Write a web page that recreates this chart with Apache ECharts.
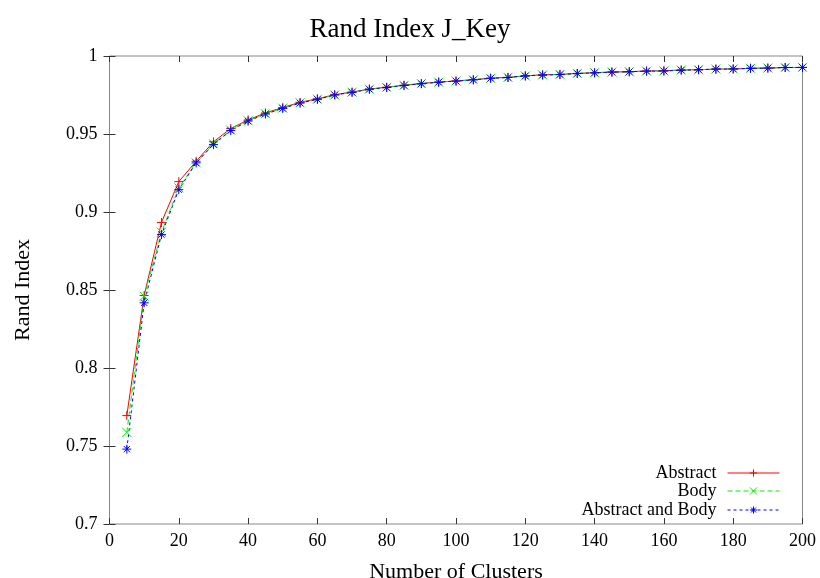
<!DOCTYPE html>
<html>
<head>
<meta charset="utf-8">
<script src="https://cdn.jsdelivr.net/npm/echarts@6/dist/echarts.min.js"></script>
<style>
  html, body { margin: 0; padding: 0; background: #fff; }
  #chart { width: 820px; height: 578px; }
</style>
</head>
<body>
<div id="chart"></div>
<script>
// Number of clusters (x) and the Rand index of each feature set
const clusters = [5, 10, 15, 20, 25, 30, 35, 40, 45, 50, 55, 60, 65, 70, 75, 80, 85, 90, 95, 100,
  105, 110, 115, 120, 125, 130, 135, 140, 145, 150, 155, 160, 165, 170, 175, 180, 185, 190, 195, 200];

const abstractValues = [0.7695, 0.8465, 0.8933, 0.9195, 0.9325, 0.9450, 0.9535, 0.9590, 0.9635, 0.9670,
  0.9703, 0.9726, 0.9752, 0.9769, 0.9788, 0.9800, 0.9813, 0.9824, 0.9833, 0.9840,
  0.9848, 0.9858, 0.9863, 0.9873, 0.9879, 0.9882, 0.9888, 0.9893, 0.9897, 0.9899,
  0.9904, 0.9905, 0.9910, 0.9912, 0.9916, 0.9917, 0.9921, 0.9923, 0.9926, 0.9926];

const bodyValues = [0.7587, 0.8460, 0.8870, 0.9155, 0.9315, 0.9437, 0.9525, 0.9585, 0.9630, 0.9666,
  0.9700, 0.9723, 0.9750, 0.9768, 0.9787, 0.9799, 0.9812, 0.9823, 0.9832, 0.9840,
  0.9847, 0.9857, 0.9863, 0.9872, 0.9879, 0.9882, 0.9888, 0.9893, 0.9897, 0.9899,
  0.9903, 0.9904, 0.9910, 0.9912, 0.9916, 0.9917, 0.9921, 0.9923, 0.9926, 0.9927];

const bothValues = [0.7480, 0.8418, 0.8855, 0.9143, 0.9315, 0.9432, 0.9522, 0.9583, 0.9628, 0.9664,
  0.9698, 0.9722, 0.9750, 0.9767, 0.9787, 0.9798, 0.9811, 0.9822, 0.9832, 0.9839,
  0.9847, 0.9857, 0.9862, 0.9872, 0.9878, 0.9881, 0.9888, 0.9892, 0.9897, 0.9899,
  0.9903, 0.9904, 0.9909, 0.9912, 0.9916, 0.9917, 0.9921, 0.9922, 0.9926, 0.9927];

const seriesNames = ['Abstract', 'Body', 'Abstract and Body'];
const xTicks = [0, 20, 40, 60, 80, 100, 120, 140, 160, 180, 200];
const yTicks = [0.7, 0.75, 0.8, 0.85, 0.9, 0.95, 1];

const FONT = '"Liberation Serif", "DejaVu Serif", serif';

// gnuplot-like point glyphs drawn as stroked paths
const SYM_PLUS = 'path://M5,0L5,10M0,5L10,5';
const SYM_CROSS = 'path://M0,0L10,10M10,0L0,10';
const SYM_STAR = 'path://M5,0L5,10M0,5L10,5M1.5,1.5L8.5,8.5M8.5,1.5L1.5,8.5';

function pairs(vals) { return clusters.map((c, i) => [c, vals[i]]); }

function lineSeries(name, vals, color, symbol, dash) {
  return {
    name: name,
    type: 'line',
    data: pairs(vals),
    symbol: symbol,
    symbolSize: 9,
    showAllSymbol: true,
    clip: false,
    animation: false,
    color: color,
    itemStyle: { color: color, borderColor: color, borderWidth: 1 },
    lineStyle: { color: color, width: 1, type: dash },
    emphasis: { disabled: true }
  };
}

const axisTickStyle = { show: true, inside: true, length: 6, lineStyle: { color: '#333', width: 1 } };

const chart = echarts.init(document.getElementById('chart'), null, { renderer: 'canvas' });

function legendEntry(name, top) {
  return {
    data: [name],
    right: 35,
    top: top,
    orient: 'vertical',
    align: 'right',
    itemWidth: 52,
    itemHeight: 9,
    itemGap: 0,
    selectedMode: false,
    lineStyle: { width: 1 },
    itemStyle: { borderWidth: 1 },
    textStyle: { fontFamily: FONT, fontSize: 18, color: '#000', padding: [0, 6, 0, 0] }
  };
}

chart.setOption({
  backgroundColor: '#fff',
  title: {
    text: 'Rand Index J_Key',
    left: 'center',
    top: 11,
    textStyle: { fontFamily: FONT, fontSize: 27, fontWeight: 'normal', color: '#000' }
  },
  legend: [
    legendEntry(seriesNames[0], 459),
    legendEntry(seriesNames[1], 477),
    legendEntry(seriesNames[2], 496)
  ],
  grid: {
    left: 109.5, right: 17.5, top: 56, bottom: 54,
    outerBoundsMode: 'none',
    show: true, borderColor: '#888', borderWidth: 1, backgroundColor: 'transparent'
  },
  xAxis: [{
    type: 'value',
    min: 0, max: 200, interval: 20,
    name: 'Number of Clusters',
    nameLocation: 'middle',
    nameGap: 37,
    nameTextStyle: { fontFamily: FONT, fontSize: 22, color: '#000' },
    axisLine: { show: false },
    axisTick: axisTickStyle,
    splitLine: { show: false },
    axisLabel: {
      margin: 8, fontFamily: FONT, fontSize: 18, color: '#000',
      formatter: v => xTicks.includes(v) ? String(v) : ''
    }
  }, {
    type: 'value',
    position: 'top',
    min: 0, max: 200, interval: 20,
    axisLine: { show: false },
    axisTick: axisTickStyle,
    splitLine: { show: false },
    axisLabel: { show: false }
  }],
  yAxis: [{
    type: 'value',
    min: 0.7, max: 1, interval: 0.05,
    name: 'Rand Index',
    nameLocation: 'middle',
    nameGap: 75,
    nameRotate: 90,
    nameTextStyle: { fontFamily: FONT, fontSize: 22, color: '#000' },
    axisLine: { show: false },
    axisTick: axisTickStyle,
    splitLine: { show: false },
    axisLabel: {
      margin: 12, fontFamily: FONT, fontSize: 18, color: '#000',
      formatter: v => {
        const t = yTicks.find(y => Math.abs(y - v) < 1e-9);
        return t === undefined ? '' : String(t);
      }
    }
  }, {
    type: 'value',
    position: 'right',
    min: 0.7, max: 1, interval: 0.05,
    axisLine: { show: false },
    axisTick: axisTickStyle,
    splitLine: { show: false },
    axisLabel: { show: false }
  }],
  series: [
    lineSeries(seriesNames[0], abstractValues, '#ff0000', SYM_PLUS, 'solid'),
    lineSeries(seriesNames[1], bodyValues, '#00ee00', SYM_CROSS, [5, 3]),
    lineSeries(seriesNames[2], bothValues, '#0000ff', SYM_STAR, [3, 3])
  ]
});
</script>
</body>
</html>
